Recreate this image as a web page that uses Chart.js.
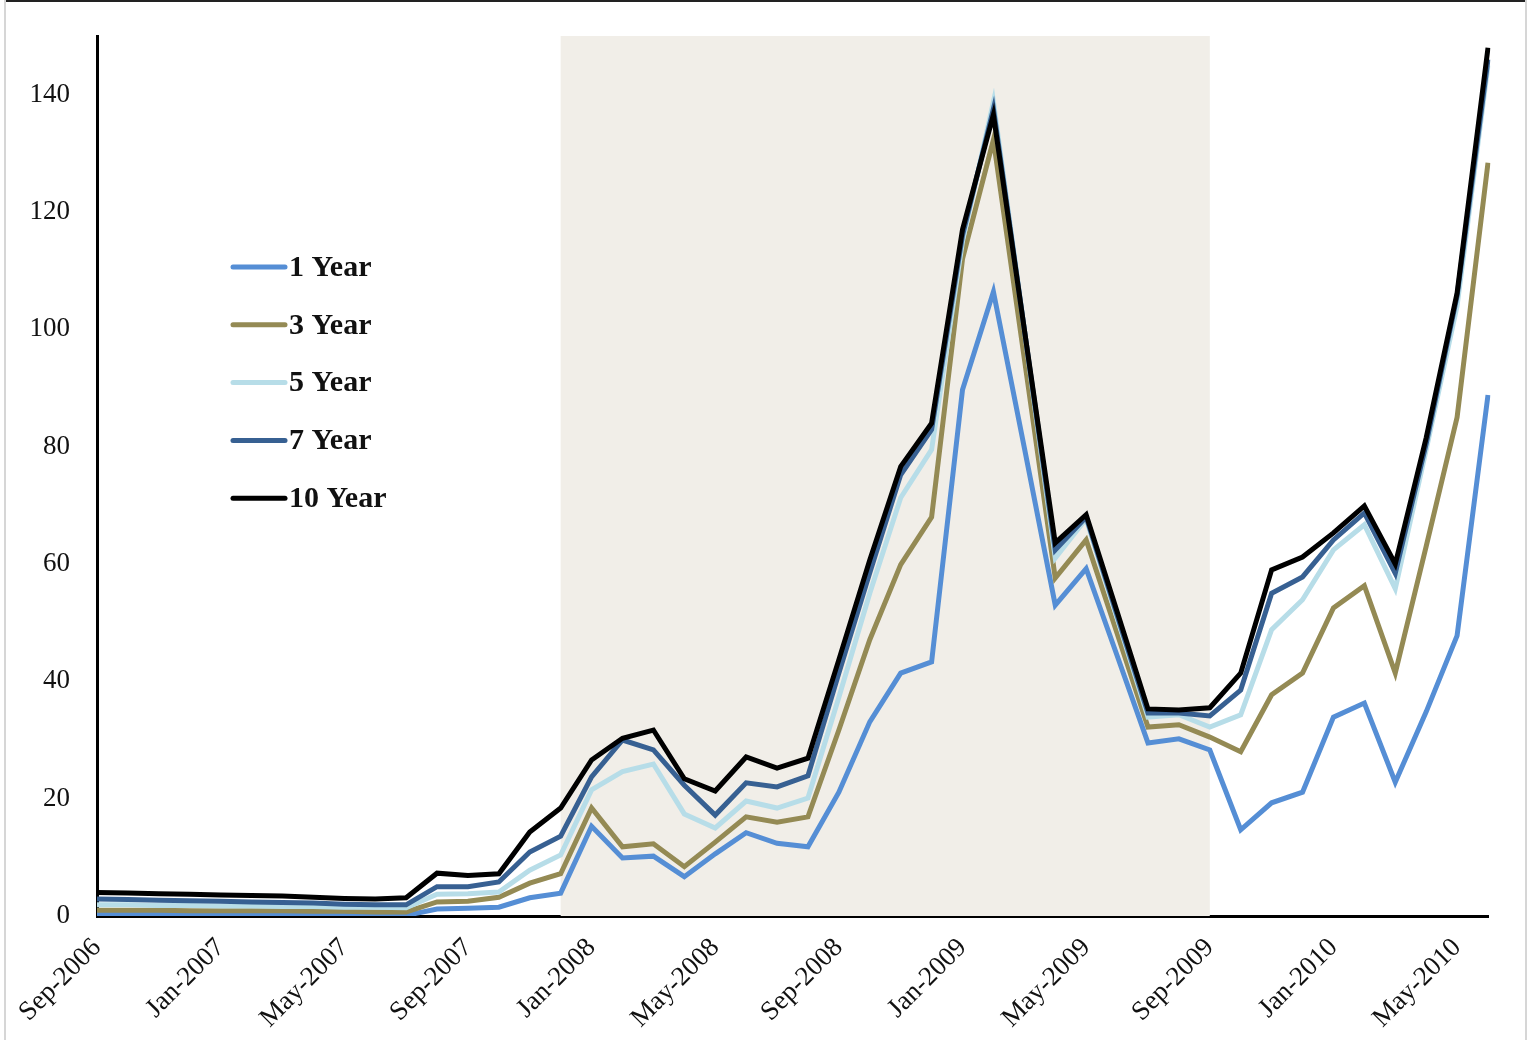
<!DOCTYPE html>
<html>
<head>
<meta charset="utf-8">
<script src="https://cdn.jsdelivr.net/npm/chart.js@4.4.1/dist/chart.umd.min.js"></script>
<style>
  html, body { margin: 0; padding: 0; background: #fff; }
  #wrap { position: relative; width: 1534px; height: 1040px; }
  #frameTop { position: absolute; left: 4px; top: 0; width: 1523px; height: 2px; background: #222; }
  #frameLeft { position: absolute; left: 4px; top: 0; width: 2px; height: 1040px; background: #d6d6d6; }
  #frameRight { position: absolute; left: 1525px; top: 0; width: 2px; height: 1040px; background: #d6d6d6; }
  canvas { position: absolute; left: 0; top: 0; }
</style>
</head>
<body>
<div id="wrap">
  <canvas id="spreadChart" width="1534" height="1040"></canvas>
  <div id="frameTop"></div>
  <div id="frameLeft"></div>
  <div id="frameRight"></div>
</div>
<script>
const months = [
    "Sep-2006", "Oct-2006", "Nov-2006", "Dec-2006", "Jan-2007", "Feb-2007", "Mar-2007", "Apr-2007",
    "May-2007", "Jun-2007", "Jul-2007", "Aug-2007", "Sep-2007", "Oct-2007", "Nov-2007", "Dec-2007",
    "Jan-2008", "Feb-2008", "Mar-2008", "Apr-2008", "May-2008", "Jun-2008", "Jul-2008", "Aug-2008",
    "Sep-2008", "Oct-2008", "Nov-2008", "Dec-2008", "Jan-2009", "Feb-2009", "Mar-2009", "Apr-2009",
    "May-2009", "Jun-2009", "Jul-2009", "Aug-2009", "Sep-2009", "Oct-2009", "Nov-2009", "Dec-2009",
    "Jan-2010", "Feb-2010", "Mar-2010", "Apr-2010", "May-2010", "Jun-2010"
];

const year1 = [0.3, 0.3, 0.3, 0.3, 0.2, 0.2, 0.2, 0.2, 0.1, 0.1, 0.1, 1.2, 1.3, 1.5, 3.1, 3.9,
    15.3, 9.9, 10.2, 6.7, 10.6, 14.2, 12.4, 11.8, 21.1, 33.1, 41.4, 43.3, 89.7, 106.4, 79.8, 53.0,
    59.2, 44.4, 29.5, 30.2, 28.3, 14.7, 19.3, 21.1, 33.9, 36.3, 22.8, 34.8, 47.8, 88.8];
const year3 = [1.0, 1.0, 1.0, 0.9, 0.9, 0.9, 0.9, 0.8, 0.8, 0.7, 0.7, 2.4, 2.5, 3.2, 5.6, 7.2,
    18.4, 11.8, 12.3, 8.4, 12.6, 16.9, 16.0, 16.9, 31.7, 47.1, 59.9, 68.0, 112.0, 132.3, 95.0, 57.6,
    64.1, 48.2, 32.2, 32.6, 30.5, 28.0, 37.7, 41.4, 52.5, 56.3, 41.4, 63.0, 85.0, 128.4];
const year5 = [1.9, 1.9, 1.8, 1.8, 1.7, 1.7, 1.6, 1.6, 1.5, 1.5, 1.4, 3.7, 3.8, 4.1, 7.8, 10.4,
    21.5, 24.6, 25.9, 17.4, 15.0, 19.6, 18.4, 20.1, 37.3, 55.0, 71.3, 79.5, 115.0, 138.8, 99.9, 61.0,
    67.7, 50.8, 33.9, 34.3, 32.2, 34.3, 48.8, 53.9, 62.4, 66.7, 55.8, 79.5, 104.0, 145.0];
const year7 = [2.9, 2.8, 2.7, 2.6, 2.5, 2.4, 2.3, 2.2, 2.0, 1.9, 1.9, 5.0, 5.0, 5.8, 10.9, 13.6,
    23.7, 30.0, 28.3, 22.3, 17.2, 22.7, 22.0, 23.9, 41.4, 58.5, 75.2, 82.9, 116.0, 137.6, 100.0, 62.4,
    68.0, 51.3, 34.6, 34.6, 34.1, 38.5, 55.0, 57.8, 64.1, 68.7, 58.4, 80.5, 105.7, 146.0];
const year10 = [4.0, 3.9, 3.8, 3.7, 3.6, 3.5, 3.4, 3.2, 3.0, 2.9, 3.1, 7.3, 6.9, 7.2, 14.3, 18.4,
    26.6, 30.3, 31.7, 23.4, 21.3, 27.1, 25.2, 26.9, 43.7, 60.7, 76.6, 84.0, 117.0, 136.6, 100.0, 63.6,
    68.4, 51.9, 35.3, 35.1, 35.5, 41.4, 59.0, 61.2, 65.3, 69.9, 60.0, 81.5, 106.2, 148.0];

// recession band (category names)
const shadeFrom = "Dec-2007";
const shadeTo = "Sep-2009";

const serif = "'Liberation Serif', 'DejaVu Serif', serif";

// shaded band behind the lines
const shadePlugin = {
    id: 'shade',
    beforeDatasetsDraw(chart) {
        const x = chart.scales.x;
        const area = chart.chartArea;
        const x0 = x.getPixelForValue(months.indexOf(shadeFrom));
        const x1 = x.getPixelForValue(months.indexOf(shadeTo));
        const ctx = chart.ctx;
        ctx.save();
        ctx.fillStyle = '#f1eee8';
        ctx.fillRect(x0, area.top, x1 - x0, area.bottom - area.top);
        ctx.restore();
    }
};

// legend sits inside the plot, top left
const legendPlugin = {
    id: 'innerLegend',
    afterDraw(chart) {
        const ctx = chart.ctx;
        ctx.save();
        ctx.font = "bold 30px " + serif;
        ctx.textBaseline = 'middle';
        chart.data.datasets.forEach((ds, i) => {
            const y = 267 + i * 57.8;
            ctx.strokeStyle = ds.borderColor;
            ctx.lineWidth = 5;
            ctx.lineCap = 'round';
            ctx.beginPath();
            ctx.moveTo(233, y);
            ctx.lineTo(285, y);
            ctx.stroke();
            ctx.fillStyle = '#111';
            ctx.fillText(ds.label, 289, y + 1);
        });
        ctx.restore();
    }
};

const series = [
    { label: "1 Year", data: year1, color: "#558ed5", order: 5 },
    { label: "3 Year", data: year3, color: "#948a54", order: 4 },
    { label: "5 Year", data: year5, color: "#b7dde8", order: 3 },
    { label: "7 Year", data: year7, color: "#376092", order: 2 },
    { label: "10 Year", data: year10, color: "#000000", order: 1 }
];

new Chart(document.getElementById('spreadChart').getContext('2d'), {
    type: 'line',
    data: {
        labels: months,
        datasets: series.map(s => ({
            label: s.label,
            data: s.data,
            borderColor: s.color,
            backgroundColor: s.color,
            borderWidth: 5,
            pointRadius: 0,
            tension: 0,
            fill: false,
            order: s.order
        }))
    },
    options: {
        responsive: false,
        animation: false,
        layout: { padding: { top: 36, right: 46, left: 0, bottom: 0 } },
        plugins: { legend: { display: false }, tooltip: { enabled: false } },
        scales: {
            x: {
                offset: false,
                grid: { display: false },
                border: { display: true, color: '#000', width: 3 },
                ticks: {
                    autoSkip: false,
                    minRotation: 45,
                    maxRotation: 45,
                    padding: 8,
                    color: '#111',
                    font: { family: serif, size: 27 },
                    callback: function(val, idx) { return idx % 4 === 0 ? months[idx] : ''; }
                },
                afterFit(scale) { scale.height = 124; }
            },
            y: {
                min: 0,
                max: 150,
                grid: { display: false },
                border: { display: true, color: '#000', width: 3 },
                ticks: {
                    stepSize: 20,
                    padding: 19,
                    color: '#111',
                    font: { family: serif, size: 27 },
                    callback: v => (v % 20 === 0 ? v : '')
                },
                afterFit(scale) { scale.width = 97; }
            }
        }
    },
    plugins: [shadePlugin, legendPlugin]
});
</script>
</body>
</html>
